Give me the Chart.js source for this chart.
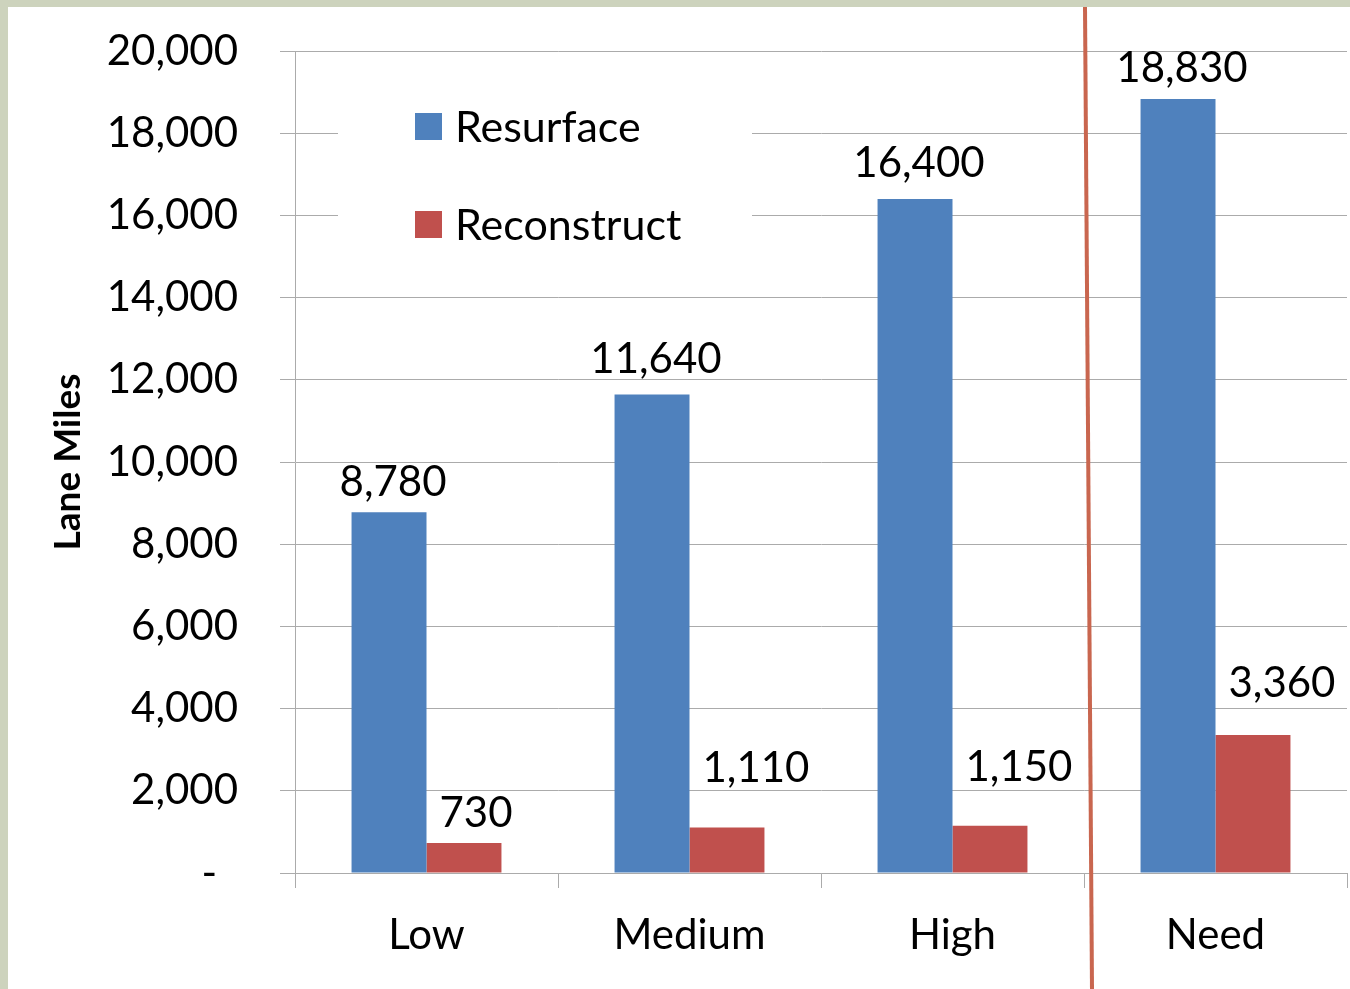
<!DOCTYPE html>
<html>
<head>
<meta charset="utf-8">
<script src="https://cdn.jsdelivr.net/npm/chart.js@4.4.1/dist/chart.umd.min.js"></script>
<style>
  html, body { margin: 0; padding: 0; width: 1350px; height: 989px; overflow: hidden; background: #CDD3BD; }
  #sheet { position: absolute; left: 8px; top: 7px; right: 0; bottom: 0; background: #ffffff; }
  #c { position: absolute; left: 0; top: 0; }
</style>
</head>
<body>
<div id="sheet"></div>
<canvas id="c" width="1350" height="989"></canvas>
<script>
// Lane miles treated per funding scenario, plus the estimated need
const categories  = ['Low', 'Medium', 'High', 'Need'];
const resurface   = [8780, 11640, 16400, 18830];
const reconstruct = [730, 1110, 1150, 3360];
const seriesNames = ['Resurface', 'Reconstruct'];
const yMin = 0, yMax = 20000, yStep = 2000;

const BLUE = '#4F81BD';
const RED = '#C0504D';
const GRID = '#ABABAB';
const FONT = 'Lato, "Open Sans", sans-serif';

// value label placement: gap (px) between text baseline and bar top
const labelStyle = [
  { align: 'center', dx: 4,  gap: [16, 22, 22, 17] },
  { align: 'left',   dx: 13, gap: [16, 45, 45, 38] }
];

const fmt = v => v.toLocaleString('en-US');

const valueLabels = {
  id: 'valueLabels',
  afterDatasetsDraw(chart) {
    const ctx = chart.ctx;
    ctx.save();
    ctx.font = '42px ' + FONT;
    ctx.fillStyle = '#000';
    ctx.textBaseline = 'alphabetic';
    chart.data.datasets.forEach((ds, di) => {
      const st = labelStyle[di];
      chart.getDatasetMeta(di).data.forEach((bar, i) => {
        let x;
        if (st.align === 'left') { ctx.textAlign = 'left'; x = bar.x - bar.width / 2 + st.dx; }
        else { ctx.textAlign = 'center'; x = bar.x + st.dx; }
        ctx.fillText(fmt(ds.data[i]), x, bar.y - st.gap[i]);
      });
    });
    ctx.restore();
  }
};

// legend box sitting inside the plot, hiding the gridlines behind it
const insideLegend = {
  id: 'insideLegend',
  afterDatasetsDraw(chart) {
    const ctx = chart.ctx;
    ctx.save();
    ctx.fillStyle = '#fff';
    ctx.fillRect(338, 64, 414, 212);
    ctx.font = '43px ' + FONT;
    ctx.textAlign = 'left';
    ctx.textBaseline = 'alphabetic';
    chart.data.datasets.forEach((ds, i) => {
      const y = 113 + i * 98;
      ctx.fillStyle = ds.backgroundColor;
      ctx.fillRect(415, y, 27, 27);
      ctx.fillStyle = '#000';
      ctx.fillText(ds.label, 455, y + 29);
    });
    ctx.restore();
  }
};

// divider separating the scenarios from the need column
const divider = {
  id: 'divider',
  afterDraw(chart) {
    const xs = chart.scales.x;
    const xb = (xs.getPixelForValue(2) + xs.getPixelForValue(3)) / 2;
    const ctx = chart.ctx;
    ctx.save();
    ctx.strokeStyle = '#C9664F';
    ctx.lineWidth = 4;
    ctx.beginPath();
    ctx.moveTo(xb + 1, 7);
    ctx.lineTo(xb + 8, chart.height);
    ctx.stroke();
    ctx.restore();
  }
};

function draw() {
  new Chart(document.getElementById('c'), {
    type: 'bar',
    data: {
      labels: categories,
      datasets: [
        { label: seriesNames[0], data: resurface, backgroundColor: BLUE },
        { label: seriesNames[1], data: reconstruct, backgroundColor: RED }
      ]
    },
    options: {
      responsive: false,
      animation: false,
      categoryPercentage: 0.57,
      barPercentage: 1.0,
      layout: { padding: { top: 51, right: 3, left: 0, bottom: 0 } },
      plugins: { legend: { display: false }, tooltip: { enabled: false } },
      scales: {
        x: {
          afterFit(scale) { scale.height = 116; },
          grid: { drawOnChartArea: false, drawTicks: true, tickLength: 15, color: GRID, offset: true },
          border: { color: GRID },
          ticks: { color: '#000', font: { family: FONT, size: 42 }, padding: 22 }
        },
        y: {
          min: yMin, max: yMax,
          afterFit(scale) {
            scale.width = 295;
            // the outer layout padding already leaves room for the end labels
            scale.paddingTop = 0;
            scale.paddingBottom = 0;
          },
          grid: { color: GRID, tickLength: 15 },
          border: { color: GRID },
          ticks: {
            stepSize: yStep,
            color: '#000',
            font: { family: FONT, size: 42 },
            padding: 42,
            callback: v => v === 0 ? '-\u2002' : fmt(v)
          },
          title: {
            display: true,
            text: 'Lane Miles',
            color: '#000',
            font: { family: FONT, size: 37, weight: 'bold' },
            padding: { top: 46 }
          }
        }
      }
    },
    plugins: [valueLabels, insideLegend, divider]
  });
}

document.fonts.load('42px Lato').then(draw, draw);
</script>
</body>
</html>
